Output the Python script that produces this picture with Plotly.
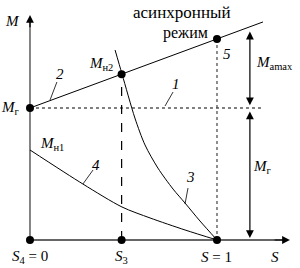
import plotly.graph_objects as go

# ---- data (S on x, M on y; M_r = 1, S = 1 at synchronous point) ----
s3 = 0.49
line2_s = [0.0, 0.49, 1.0, 1.246]
line2_m = [1.0, 1.256, 1.523, 1.652]
curve3_s = [0.455, 0.492, 0.561, 0.615, 0.684, 0.765, 0.829, 0.909, 1.0]
curve3_m = [1.439, 1.258, 0.924, 0.720, 0.545, 0.386, 0.280, 0.144, 0.0]
curve4_s = [0.0, 0.283, 0.492, 0.642, 0.829, 1.0]
curve4_m = [0.682, 0.424, 0.250, 0.167, 0.076, 0.0]
mr_line_s = [0.0, 1.246]
mr_line_m = [1.0, 1.0]
pts_s = [0.0, 0.49, 1.0, 0.0, 0.49, 1.0]
pts_m = [0.0, 0.0, 0.0, 1.0, 1.256, 1.523]

FONT = "Liberation Serif"
fig = go.Figure()

def ln(x, y, dash="solid", w=1.0, shape="linear", color="black", smooth=None):
    line = dict(color=color, width=w, dash=dash, shape=shape)
    if smooth is not None:
        line["smoothing"] = smooth
    fig.add_trace(go.Scatter(x=x, y=y, mode="lines", line=line,
                             hoverinfo="skip", showlegend=False))

# axes
ln([0, 0], [0, 1.66], w=1.2, color="#333")
ln([0, 1.36], [0, 0], w=1.5, color="#333")
# dotted M_r line
ln(mr_line_s, mr_line_m, dash="dot", w=1.2)
# line 2
ln(line2_s, line2_m, w=1)
# dashed vertical at S3
ln([s3, s3], [0, 1.256], dash="dash", w=1.2)
# dotted vertical at S=1
ln([1.0, 1.0], [0, 1.523], dash="dot", w=1.2, color="#444")
# curves 3 and 4
ln(curve3_s, curve3_m, w=1, shape="spline", smooth=0.8)
ln(curve4_s, curve4_m, w=1, shape="spline", smooth=0.8)
# leaders
ln([0.107, 0.144], [1.06, 1.197], w=0.8)
ln([0.722, 0.765], [1.015, 1.121], w=0.8)
ln([0.829, 0.845], [0.273, 0.394], w=0.8)
ln([0.283, 0.337], [0.424, 0.53], w=0.8)
# points
fig.add_trace(go.Scatter(x=pts_s, y=pts_m, mode="markers",
                         marker=dict(color="black", size=8),
                         hoverinfo="skip", showlegend=False))

ann = []
def arrow(x0, y0, x1, y1, side="end"):
    ann.append(dict(x=x1, y=y1, ax=x0, ay=y0, xref="x", yref="y", axref="x", ayref="y",
                    showarrow=True, arrowhead=2, arrowsize=1.3, arrowwidth=1.2,
                    startarrowhead=2, startarrowsize=1.3,
                    arrowside=side, arrowcolor="black", text=""))

arrow(0, 1.6, 0, 1.705)
arrow(1.3, 0, 1.39, 0)
arrow(1.176, 1.59, 1.176, 1.02, side="end+start")
arrow(1.176, 0.985, 1.176, 0.015, side="end+start")

def txt(x, y, t, size=15):
    ann.append(dict(x=x, y=y, xref="x", yref="y", text=t, showarrow=False,
                    font=dict(family=FONT, size=size, color="black")))

txt(-0.091, 1.66, "<i>M</i>")
txt(-0.103, 1.0, "<i>M</i><sub>г</sub>")
txt(0.16, 1.26, "<i>2</i>")
txt(0.38, 1.33, "<i>M</i><sub>н2</sub>")
txt(0.813, 1.727, "асинхронный", size=17)
txt(0.83, 1.568, "режим", size=16)
txt(1.053, 1.41, "<i>5</i>")
txt(1.31, 1.34, "<i>M</i><sub>amax</sub>")
txt(0.78, 1.185, "<i>1</i>")
txt(1.245, 0.553, "<i>M</i><sub>г</sub>")
txt(0.856, 0.477, "<i>3</i>")
txt(0.12, 0.727, "<i>M</i><sub>н1</sub>")
txt(0.353, 0.568, "<i>4</i>")
txt(0.0, -0.129, "<i>S</i><sub>4</sub> = 0")
txt(0.49, -0.129, "<i>S</i><sub>3</sub>")
txt(1.0, -0.129, "<i>S</i> = 1")
txt(1.31, -0.129, "<i>S</i>")

fig.update_layout(
    width=300, height=268, margin=dict(l=0, r=0, t=0, b=0),
    paper_bgcolor="white", plot_bgcolor="white",
    xaxis=dict(range=[-0.1604, 1.4439], visible=False, fixedrange=True),
    yaxis=dict(range=[-0.2121, 1.8182], visible=False, fixedrange=True),
    annotations=ann, showlegend=False,
)
fig.write_html("out.html")
